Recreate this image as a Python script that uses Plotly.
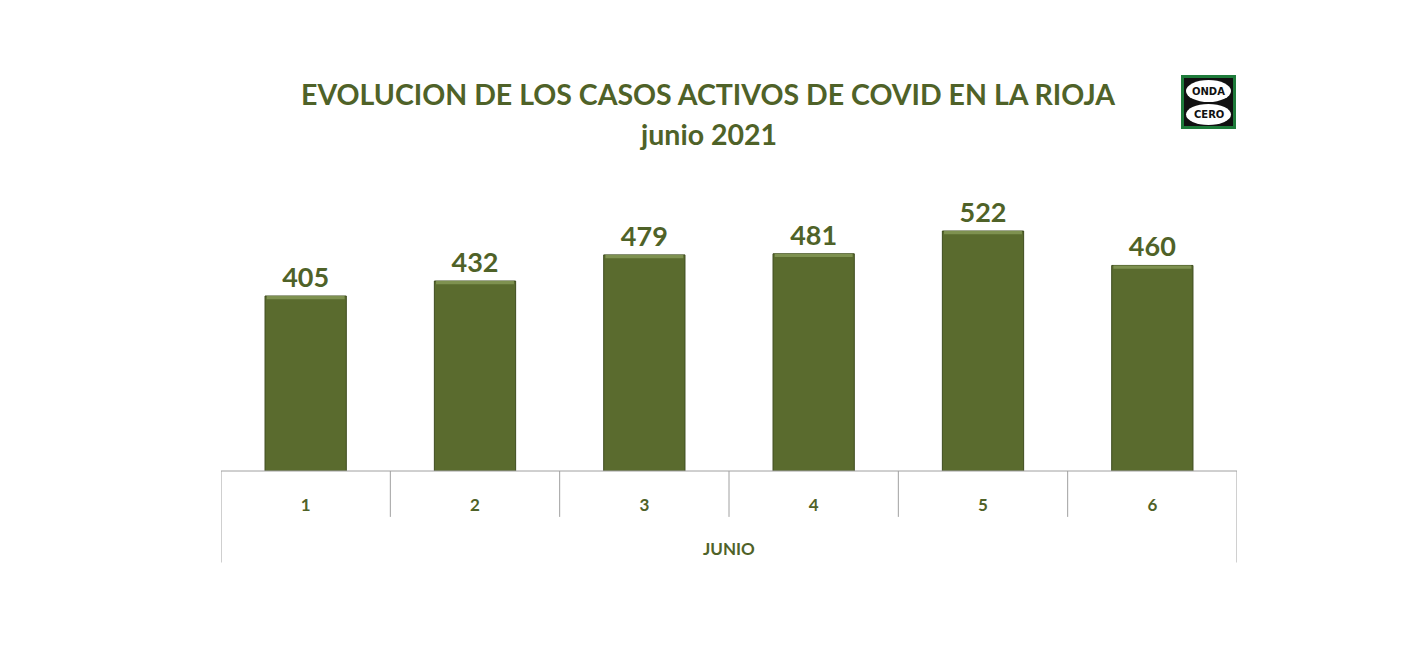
import plotly.graph_objects as go

days = ["1", "2", "3", "4", "5", "6"]
casos = [405, 432, 479, 481, 522, 460]
group_label = "JUNIO"
title_line1 = "EVOLUCION DE LOS CASOS ACTIVOS DE COVID EN LA RIOJA"
title_line2 = "junio 2021"

GREEN_TXT = "#4F6228"
BAR = "#5A6B2E"
FONT = "Lato"

fig = go.Figure()
fig.add_trace(go.Bar(
    x=days, y=casos, width=0.48,
    marker=dict(color=BAR, line=dict(color="#3E4C1E", width=1)),
    text=[f"<b>{v}</b>" for v in casos], textposition="outside",
    textfont=dict(family=FONT, size=27, color=GREEN_TXT),
    cliponaxis=False,
))
# highlight strip on top of bars (bevel look)
fig.add_trace(go.Bar(
    x=days, y=[6] * len(days), base=[v - 6 for v in casos], width=0.46,
    marker=dict(color="#7E9150", line=dict(width=0)), hoverinfo="skip",
))

shapes = []
n = len(days)
# category separators
for i in range(n + 1):
    x = i - 0.5
    bottom = -0.305 if i in (0, n) else -0.153
    shapes.append(dict(type="line", xref="x", yref="paper", x0=x, x1=x, y0=0, y1=bottom,
                       line=dict(color="#A0A0A0", width=1)))
shapes.append(dict(type="line", xref="paper", yref="paper", x0=0, x1=1, y0=0, y1=0,
                   line=dict(color="#A0A0A0", width=1)))

# logo
shapes += [
    dict(type="rect", xref="paper", yref="paper", x0=(1181 - 221) / 1016, x1=(1236 - 221) / 1016,
         y0=(471 - 129) / 300, y1=(471 - 75) / 300, fillcolor="#1E7B3A", line=dict(width=0)),
    dict(type="rect", xref="paper", yref="paper", x0=(1184 - 221) / 1016, x1=(1233 - 221) / 1016,
         y0=(471 - 126) / 300, y1=(471 - 78) / 300, fillcolor="#111111", line=dict(width=0)),
    dict(type="circle", xref="paper", yref="paper", x0=(1186 - 221) / 1016, x1=(1231 - 221) / 1016,
         y0=(471 - 102) / 300, y1=(471 - 80) / 300, fillcolor="white", line=dict(width=0)),
    dict(type="circle", xref="paper", yref="paper", x0=(1186 - 221) / 1016, x1=(1231 - 221) / 1016,
         y0=(471 - 125) / 300, y1=(471 - 104) / 300, fillcolor="white", line=dict(width=0)),
]

annotations = [
    dict(text=f"<b>{title_line1}</b>", xref="paper", yref="paper", x=(708 - 221) / 1016,
         y=(471 - 94) / 300, showarrow=False, xanchor="center", yanchor="middle",
         font=dict(family=FONT, size=28.5, color=GREEN_TXT)),
    dict(text=f"<b>{title_line2}</b>", xref="paper", yref="paper", x=(708 - 221) / 1016,
         y=(471 - 134) / 300, showarrow=False, xanchor="center", yanchor="middle",
         font=dict(family=FONT, size=28.5, color=GREEN_TXT)),
    dict(text=f"<b>{group_label}</b>", xref="paper", yref="paper", x=0.5,
         y=(471 - 548) / 300, showarrow=False, xanchor="center", yanchor="middle",
         font=dict(family=FONT, size=17, color=GREEN_TXT)),
    dict(text="<b>ONDA</b>", xref="paper", yref="paper", x=(1208.5 - 221) / 1016,
         y=(471 - 91) / 300, showarrow=False, xanchor="center", yanchor="middle",
         font=dict(family="DejaVu Sans", size=10, color="#111111")),
    dict(text="<b>CERO</b>", xref="paper", yref="paper", x=(1208.5 - 221) / 1016,
         y=(471 - 114.5) / 300, showarrow=False, xanchor="center", yanchor="middle",
         font=dict(family="DejaVu Sans", size=10, color="#111111")),
]

fig.update_layout(
    width=1416, height=672,
    margin=dict(l=221, r=179, t=171, b=201),
    paper_bgcolor="white", plot_bgcolor="white",
    showlegend=False, barmode="overlay",
    shapes=shapes, annotations=annotations,
    xaxis=dict(type="category", showgrid=False, showline=False, ticks="",
               tickfont=dict(family=FONT, size=17, color=GREEN_TXT),
               ticklabelstandoff=22, range=[-0.5, n - 0.5]),
    yaxis=dict(range=[90, 630], visible=False, showgrid=False),
    font=dict(family=FONT),
)
fig.update_xaxes(tickprefix="<b>", ticksuffix="</b>")

fig.write_html("out.html")
